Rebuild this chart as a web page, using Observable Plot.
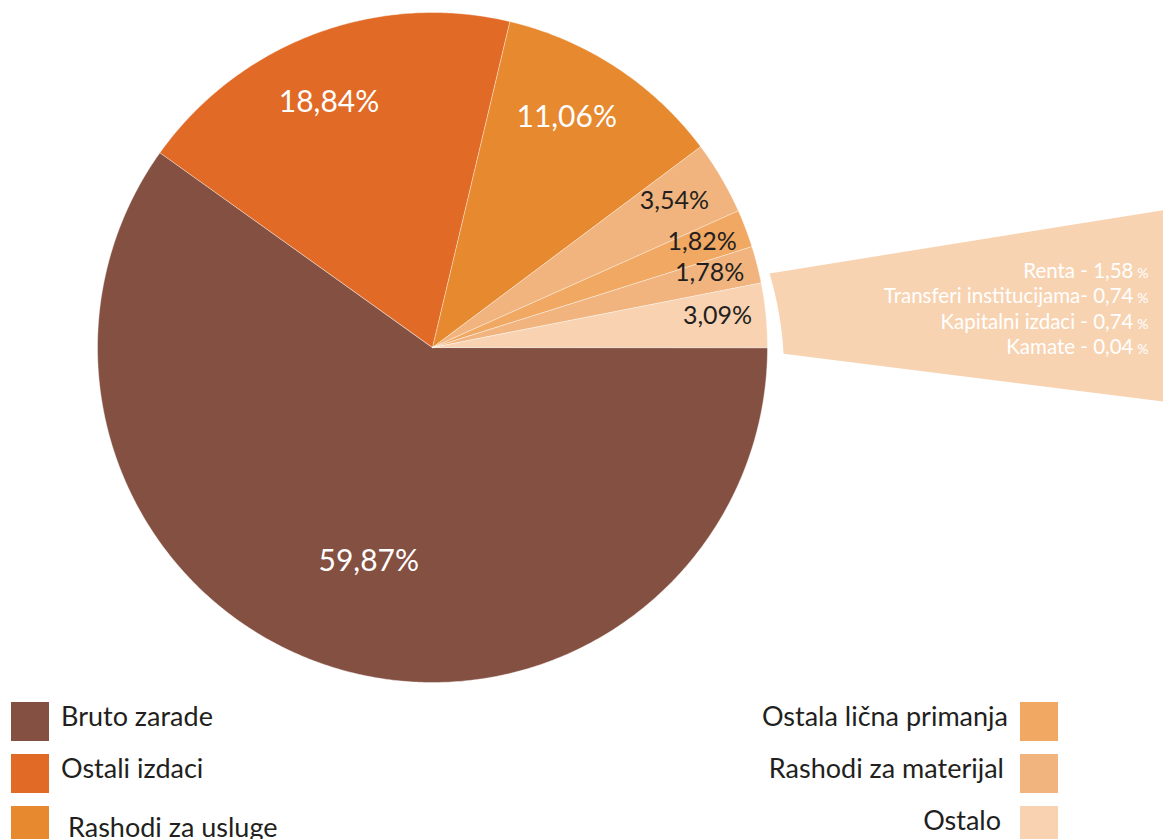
<!DOCTYPE html>
<html><head><meta charset="utf-8">
<script src="https://cdn.jsdelivr.net/npm/d3@7"></script>
<script src="https://cdn.jsdelivr.net/npm/@observablehq/plot@0.6"></script>
<style>
body{margin:0;background:#fff;}
#wrap{position:relative;width:1163px;height:839px;overflow:hidden;font-family:Lato,sans-serif;}
#chart svg{display:block;}
.sw{position:absolute;width:38px;height:39px;}
.lt{position:absolute;font-size:27px;line-height:27px;color:#231f20;white-space:nowrap;}
</style></head><body>
<div id="wrap"><div id="chart"></div><div id="legend"></div></div>
<script>
// ---- data ----
const sliceValues = [59.87, 18.84, 11.06, 3.54, 1.82, 1.78, 3.09];
const sliceColors = ["#845042", "#e06a26", "#e6892f", "#f2b47e", "#f0a862", "#f2b47e", "#f8d2b1"];
const ostaloNames = ["Renta -", "Transferi institucijama-", "Kapitalni izdaci -", "Kamate -"];
const ostaloValues = [1.58, 0.74, 0.74, 0.04];
const legendLeft = ["Bruto zarade", "Ostali izdaci", "Rashodi za usluge"];
const legendLeftColors = ["#845042", "#e06a26", "#e6892f"];
const legendRight = ["Ostala lična primanja", "Rashodi za materijal", "Ostalo"];
const legendRightColors = ["#f0a862", "#f2b47e", "#f8d2b1"];
const fanColor = "#f8d3b2";

// ---- layout ----
const W = 1163, H = 700, CX = 432, CY = 347, R = 335;
const labelR = [0.667, 0.795, 0.795, 0.844, 0.864, 0.857, 0.856];
const labelShift = [1.2, 2.3, 3.0, 0.7, 0.5, 0.8, 0.7];
const fmt = v => v.toFixed(2).replace(".", ",");
const total = d3.sum(sliceValues);
let acc = 0;
const slices = sliceValues.map((v, i) => { const a0 = acc / total; acc += v; return {i, v, a0, a1: acc / total}; });
const ang = f => -2 * Math.PI * f;
const poly = [];
for (const s of slices) {
  poly.push({i: s.i, x: 0, y: 0});
  const n = Math.max(2, Math.ceil((s.a1 - s.a0) * 720));
  for (let k = 0; k <= n; k++) {
    const t = ang(s.a0 + (s.a1 - s.a0) * k / n);
    poly.push({i: s.i, x: Math.cos(t), y: Math.sin(t)});
  }
}
const labels = slices.map(s => {
  const t = ang((s.a0 + s.a1) / 2) + labelShift[s.i] * Math.PI / 180;
  return {i: s.i, x: labelR[s.i] * Math.cos(t), y: labelR[s.i] * Math.sin(t), text: fmt(s.v) + "%"};
});
// exploded "Ostalo" fan
const fan = [];
const fa0 = 12.4, fa1 = -1.0, fr0 = 1.030, fr1 = 1.048;
for (let k = 0; k <= 40; k++) {
  const a = (fa0 + (fa1 - fa0) * k / 40) * Math.PI / 180, r = fr0 + (fr1 - fr0) * k / 40;
  fan.push({x: r * Math.cos(a), y: r * Math.sin(a)});
}
fan.push({x: 2.25, y: (CY - 404) / R}, {x: 2.25, y: (CY - 206) / R});
const ost = ostaloNames.map((n, i) => ({
  text: n + " " + fmt(ostaloValues[i]),
  x: (1133 - CX) / R, xp: (1148 - CX) / R,
  y: (CY - (277 + i * 25.6)) / R
}));

const chart = Plot.plot({
  width: W, height: H, margin: 0,
  x: {domain: [-CX / R, (W - CX) / R], range: [0, W], axis: null},
  y: {domain: [(CY - H) / R, CY / R], range: [H, 0], axis: null},
  color: {type: "identity"},
  style: {background: "transparent"},
  marks: [
    Plot.line(poly, {x: "x", y: "y", z: "i", fill: d => sliceColors[d.i], stroke: "white", strokeWidth: 0.6, strokeOpacity: 0.7, curve: "linear-closed"}),
    Plot.line(fan, {x: "x", y: "y", fill: fanColor, stroke: "none", curve: "linear-closed"}),
    Plot.text(labels, {x: "x", y: "y", text: "text", fill: d => d.i < 3 ? "white" : "#231f20", fontSize: d => d.i < 3 ? 30 : 25, fontFamily: "Lato", lineAnchor: "middle"}),
    Plot.text(ost, {x: "x", y: "y", text: "text", textAnchor: "end", lineAnchor: "bottom", fill: "white", fontSize: 20.5, fontFamily: "Lato"}),
    Plot.text(ost, {x: "xp", y: "y", text: () => "%", textAnchor: "end", lineAnchor: "bottom", fill: "white", fontSize: 14, fontFamily: "Lato"})
  ]
});
document.getElementById("chart").appendChild(chart);

// ---- legend ----
const lg = document.getElementById("legend");
const rowTop = [702, 754, 806];
const leftBase = [726, 778, 837], leftX = [61, 61, 68];
const rightBase = [726, 778, 830], rightEnd = [1008, 1004, 1001];
legendLeft.forEach((name, i) => {
  const sw = document.createElement("div"); sw.className = "sw";
  sw.style.left = "11px"; sw.style.top = rowTop[i] + "px"; sw.style.background = legendLeftColors[i];
  lg.appendChild(sw);
  const t = document.createElement("div"); t.className = "lt"; t.textContent = name;
  t.style.left = leftX[i] + "px"; t.style.top = (leftBase[i] - 24) + "px";
  lg.appendChild(t);
});
legendRight.forEach((name, i) => {
  const sw = document.createElement("div"); sw.className = "sw";
  sw.style.left = "1020px"; sw.style.top = rowTop[i] + "px"; sw.style.background = legendRightColors[i];
  lg.appendChild(sw);
  const t = document.createElement("div"); t.className = "lt"; t.textContent = name;
  t.style.right = (W - rightEnd[i]) + "px"; t.style.top = (rightBase[i] - 24) + "px";
  lg.appendChild(t);
});
</script>
</body></html>
